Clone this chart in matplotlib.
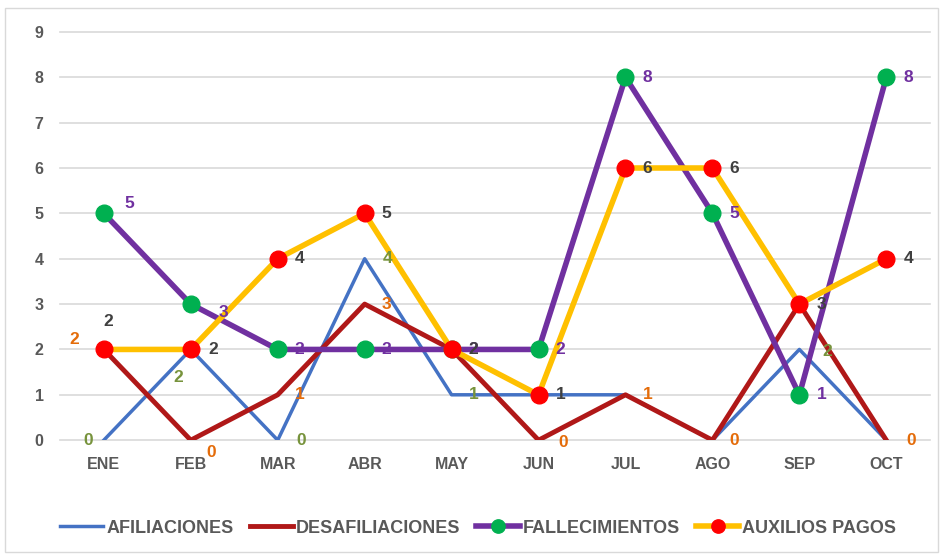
import numpy as np
import matplotlib.pyplot as plt
from matplotlib.patches import Rectangle

meses = ['ENE', 'FEB', 'MAR', 'ABR', 'MAY', 'JUN', 'JUL', 'AGO', 'SEP', 'OCT']
afiliaciones = [0, 2, 0, 4, 1, 1, 1, 0, 2, 0]
desafiliaciones = [2, 0, 1, 3, 2, 0, 1, 0, 3, 0]
fallecimientos = [5, 3, 2, 2, 2, 2, 8, 5, 1, 8]
auxilios = [2, 2, 4, 5, 2, 1, 6, 6, 3, 4]

plt.rcParams['font.family'] = ['Liberation Sans Narrow', 'Liberation Sans', 'DejaVu Sans']

fig = plt.figure(figsize=(9.43, 5.6), dpi=100)
ax = fig.add_axes([0.064, 0.214, 0.922, 0.729])
fig.patches.append(Rectangle((0.005, 0.014), 0.99, 0.972, transform=fig.transFigure,
                             fill=False, edgecolor='#d9d9d9', linewidth=1))

x = np.arange(len(meses))
ax.plot(x, afiliaciones, color='#4472C4', lw=2.5, label='AFILIACIONES', zorder=3)
ax.plot(x, desafiliaciones, color='#B01818', lw=3.5, label='DESAFILIACIONES', zorder=3)
ax.plot(x, fallecimientos, color='#7030A0', lw=4, marker='o', ms=12,
        mfc='#00B050', mec='#00B050', label='FALLECIMIENTOS', zorder=4)
ax.plot(x, auxilios, color='#FFC000', lw=4, marker='o', ms=12,
        mfc='#FF0000', mec='#FF0000', label='AUXILIOS PAGOS', zorder=5)

def etiquetas(vals, color, offs):
    for i, v in enumerate(vals):
        if offs[i] is None:
            continue
        dx, dy = offs[i]
        ax.annotate(str(v), (i, v), xytext=(dx, dy), textcoords='offset pixels',
                    ha='center', va='center', color=color, fontsize=12.5,
                    fontweight='bold', zorder=6)

R = (22, 0)
etiquetas(afiliaciones, '#77933C',
          [(-16, 0), (-13, -28), (23, 0), (23, 0), (22, 0), None, None, None, (28, -2), None])
etiquetas(desafiliaciones, '#E46C0A',
          [(-30, 10), (20, -12), R, R, None, (25, -2), R, R, None, (25, 0)])
etiquetas(fallecimientos, '#7030A0',
          [(25, 10), (33, -8), R, R, R, R, R, R, R, R])
etiquetas(auxilios, '#404040',
          [(4, 28), R, R, R, R, R, R, R, R, R])

ax.set_xlim(-0.5, 9.5)
ax.set_ylim(0, 9)
ax.set_yticks(range(10))
ax.set_xticks(x)
ax.set_xticklabels(meses)
ax.grid(axis='y', color='#d9d9d9', lw=1.2)
for gl in ax.get_ygridlines():
    gl.set_clip_on(False)
ax.set_axisbelow(True)
for s in ax.spines.values():
    s.set_visible(False)
ax.tick_params(length=0, labelsize=11.5, labelcolor='#595959', pad=12)
for t in ax.get_xticklabels() + ax.get_yticklabels():
    t.set_fontweight('bold')

leg = fig.legend(loc='center', bbox_to_anchor=(0.507, 0.057), ncol=4, frameon=False,
                 prop={'size': 13, 'weight': 'bold'}, handlelength=2.4, handletextpad=0.15,
                 columnspacing=0.9, markerscale=0.8)
for t in leg.get_texts():
    t.set_color('#595959')

fig.savefig('out.png', dpi=100)
